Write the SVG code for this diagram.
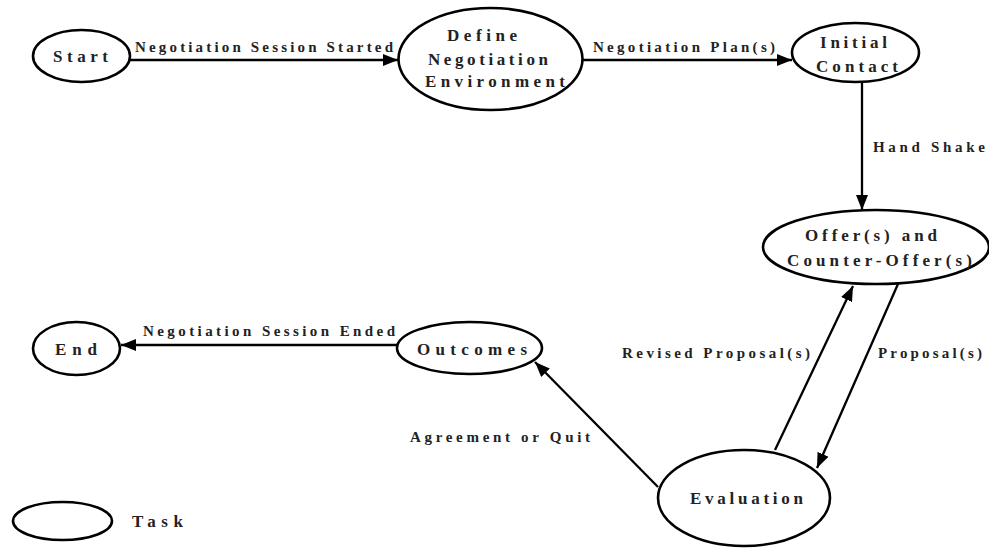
<svg xmlns="http://www.w3.org/2000/svg" width="989" height="548" viewBox="0 0 989 548">
  <defs>
    <marker id="arrow" markerUnits="userSpaceOnUse" markerWidth="16" markerHeight="12" refX="15" refY="6" orient="auto">
      <path d="M0,0 L15,6 L0,12 Z" fill="#000"/>
    </marker>
    <style>
      .task { fill: #fff; stroke: #000; stroke-width: 2.6; }
      .node-text { font-family: "Liberation Serif", "Times New Roman", serif; font-weight: bold; font-size: 17px; fill: #222; }
      .edge { fill: none; stroke: #000; stroke-width: 2.3; marker-end: url(#arrow); }
      .edge-text { font-family: "Liberation Serif", "Times New Roman", serif; font-weight: bold; font-size: 15px; fill: #222; }
    </style>
  </defs>

  <rect width="989" height="548" fill="#fff"/>

  <!-- connectors -->
  <g id="connectors">
    <line class="edge" x1="130" y1="60" x2="398" y2="60"/>
    <text class="edge-text" x="135" y="52" textLength="258" lengthAdjust="spacing">Negotiation Session Started</text>

    <line class="edge" x1="583" y1="60" x2="792" y2="60"/>
    <text class="edge-text" x="593" y="52" textLength="182" lengthAdjust="spacing">Negotiation Plan(s)</text>

    <line class="edge" x1="862" y1="82" x2="862" y2="210"/>
    <text class="edge-text" x="873" y="152" textLength="112" lengthAdjust="spacing">Hand Shake</text>

    <line class="edge" x1="775" y1="450" x2="853" y2="286"/>
    <text class="edge-text" x="622" y="358" textLength="188" lengthAdjust="spacing">Revised Proposal(s)</text>

    <line class="edge" x1="898" y1="284" x2="817" y2="468"/>
    <text class="edge-text" x="878" y="358" textLength="104" lengthAdjust="spacing">Proposal(s)</text>

    <line class="edge" x1="658" y1="487" x2="535" y2="362"/>
    <text class="edge-text" x="410" y="442" textLength="180" lengthAdjust="spacing">Agreement or Quit</text>

    <line class="edge" x1="397" y1="345" x2="121" y2="345"/>
    <text class="edge-text" x="143" y="336" textLength="252" lengthAdjust="spacing">Negotiation Session Ended</text>
  </g>

  <!-- tasks -->
  <g id="start">
    <ellipse class="task" cx="81.5" cy="56" rx="48.5" ry="26"/>
    <text class="node-text" x="53" y="62" textLength="55" lengthAdjust="spacing">Start</text>
  </g>

  <g id="define-negotiation-environment">
    <ellipse class="task" cx="490.5" cy="59" rx="92" ry="51"/>
    <text class="node-text" x="447" y="41" textLength="70" lengthAdjust="spacing">Define</text>
    <text class="node-text" x="428" y="65" textLength="120" lengthAdjust="spacing">Negotiation</text>
    <text class="node-text" x="425" y="87" textLength="140" lengthAdjust="spacing">Environment</text>
  </g>

  <g id="initial-contact">
    <ellipse class="task" cx="855.5" cy="52.5" rx="63.5" ry="29.5"/>
    <text class="node-text" x="820" y="48" textLength="67" lengthAdjust="spacing">Initial</text>
    <text class="node-text" x="816" y="72" textLength="82" lengthAdjust="spacing">Contact</text>
  </g>

  <g id="offers">
    <ellipse class="task" cx="876" cy="247" rx="113" ry="37"/>
    <text class="node-text" x="805" y="241" textLength="132" lengthAdjust="spacing">Offer(s) and</text>
    <text class="node-text" x="787" y="266" textLength="185" lengthAdjust="spacing">Counter-Offer(s)</text>
  </g>

  <g id="evaluation">
    <ellipse class="task" cx="744" cy="498" rx="86" ry="48"/>
    <text class="node-text" x="690" y="504" textLength="113" lengthAdjust="spacing">Evaluation</text>
  </g>

  <g id="outcomes">
    <ellipse class="task" cx="469.5" cy="348" rx="72.5" ry="26"/>
    <text class="node-text" x="417" y="355" textLength="110" lengthAdjust="spacing">Outcomes</text>
  </g>

  <g id="end">
    <ellipse class="task" cx="76.5" cy="348.5" rx="43.5" ry="26.5"/>
    <text class="node-text" x="55" y="355" textLength="42" lengthAdjust="spacing">End</text>
  </g>

  <!-- legend -->
  <g id="legend">
    <ellipse class="task" cx="62.5" cy="521" rx="49.5" ry="19"/>
    <text class="node-text" x="132" y="527" textLength="51" lengthAdjust="spacing">Task</text>
  </g>
</svg>
